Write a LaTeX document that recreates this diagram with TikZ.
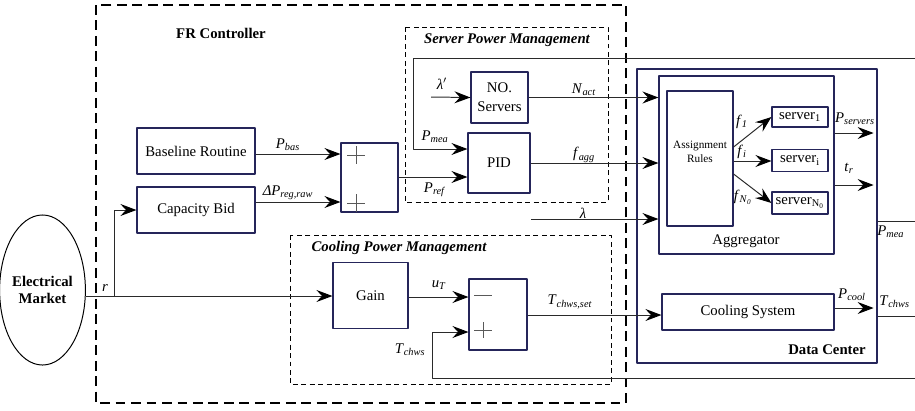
\documentclass[tikz,border=0pt]{standalone}
\usepackage{fontspec}
\setmainfont{Liberation Serif}
\usetikzlibrary{arrows.meta,shapes.geometric}

\definecolor{boxedge}{HTML}{25255A}
\definecolor{wire}{HTML}{2A2A2A}

\newcommand{\basefont}{\fontsize{10.5}{12.6}\selectfont}
\newcommand{\sig}[2]{\textit{#1}\textsubscript{\textit{#2}}}

\begin{document}
\begin{tikzpicture}[
  x=0.025cm, y=-0.025cm,
  font=\basefont,
  line join=round,
  blk/.style={draw=boxedge, line width=0.8pt, inner sep=1pt, align=center},
  wire/.style={draw=wire, line width=0.7pt,
    -{Stealth[length=4mm, width=3mm, inset=1.4mm, black]}},
  plain/.style={draw=wire, line width=0.7pt},
  frame/.style={line width=1.4pt, dash pattern=on 7pt off 4pt},
  group/.style={line width=0.7pt, dash pattern=on 3.5pt off 2.5pt},
  sgn/.style={draw=black!65, line width=0.6pt},
  lbl/.style={inner sep=0pt},
]
\useasboundingbox (0,0) rectangle (915,410);
\clip (0,0) rectangle (915,410);

% ── the dashed frames ─────────────────────────────────────────────────────
\draw[frame] (96,5) rectangle (626,403);
\draw[group] (405,27) rectangle (608,202);
\draw[group] (290,235) rectangle (611,384);

\node[font=\basefont\bfseries] (frtitle) at (221,33) {FR Controller};
\node[font=\basefont\bfseries\itshape] (sptitle) at (507,40) {Server Power Management};
\node[font=\basefont\bfseries\itshape] (cptitle) at (399,248) {Cooling Power Management};

% ── blocks ────────────────────────────────────────────────────────────────
\node[draw=black, line width=0.7pt, ellipse, minimum width=1.675cm,
  minimum height=3.75cm, inner sep=0pt, align=center,
  font=\basefont\bfseries] (mkt) at (42.5,290) {Electrical\\Market};

\node[blk, minimum width=2.95cm, minimum height=1.15cm] (base) at (196,151) {Baseline Routine};
\node[blk, minimum width=2.95cm, minimum height=1.15cm] (bid)  at (196,210) {Capacity Bid};
\node[blk, minimum width=1.425cm, minimum height=1.725cm] (sum1) at (369.5,177.5) {};

\node[blk, minimum width=1.425cm, minimum height=1.275cm] (nos) at (499.5,97.5) {NO.\\[1pt]Servers};
\node[blk, minimum width=1.55cm, minimum height=1.5cm] (pid) at (499,163) {PID};

\node[blk, minimum width=1.875cm, minimum height=1.65cm] (gain) at (370.5,295.5) {Gain};
\node[blk, minimum width=1.45cm, minimum height=1.775cm] (sum2) at (498,314.5) {};

% the data center and what sits in it
\node[blk, minimum width=6cm, minimum height=7.35cm] (dc) at (757,216) {};
\node[blk, minimum width=4.375cm, minimum height=4.45cm] (agg) at (746.5,165) {};
\node[blk, minimum width=1.65cm, minimum height=3.375cm] (ar) at (700,158.5) {};
\node[align=center, font=\fontsize{8}{9.6}\selectfont] (lar) at (700,152) {Assignment\\Rules};
\node[blk, minimum width=1.4cm, minimum height=0.5cm]  (srv1) at (800,117)   {server\textsubscript{1}};
\node[blk, minimum width=1.4cm, minimum height=0.53cm] (srvI) at (800,160.5) {server\textsubscript{i}};
\node[blk, minimum width=1.4cm, minimum height=0.55cm] (srvN) at (800,203)   {server\textsubscript{N\textsubscript{0}}};
\node[blk, minimum width=4.3cm, minimum height=0.9cm] (cool) at (748,312) {Cooling System};

\node (lagg) at (746,241) {Aggregator};
\node[font=\basefont\bfseries] (ldc) at (827,350) {Data Center};

% the plus and minus signs of the two summing blocks
\draw[sgn] (347,155) -- (365,155) (356,146) -- (356,164);
\draw[sgn] (347,203) -- (365,203) (356,194) -- (356,212);
\draw[sgn] (474,295) -- (492,295);
\draw[sgn] (474,330) -- (492,330) (483,322) -- (483,338);

% ── connectors ────────────────────────────────────────────────────────────
\coordinate (rsplit)  at (114,296);
\coordinate (lamin)   at (431,97);
\coordinate (lamin2)  at (531,219);
\coordinate (meatop)  at (930,58);
\coordinate (meacorn) at (413,58);
\coordinate (fbR)     at (930,378);
\coordinate (fbL)     at (432,378);
\coordinate (outmea)  at (930,221);
\coordinate (outchws) at (930,316);

\draw[wire] (mkt.east |- 0,296) -- (gain.west |- 0,296);
\draw[wire] (rsplit) |- (bid.west);
\draw[wire] (base.east |- 0,154) -- (sum1.west |- 0,154);
\draw[wire] (bid.east |- 0,202) -- (sum1.west |- 0,202);
\draw[wire] (sum1.east |- 0,177) -- (pid.west |- 0,177);
\draw[wire] (meatop) -- (meacorn) |- (pid.west |- 0,149);
\draw[wire] (lamin) -- (nos.west);
\draw[wire] (nos.east) -- (nos.east -| agg.west);
\draw[wire] (pid.east) -- (pid.east -| agg.west);
\draw[wire] (lamin2) -- (lamin2 -| agg.west);

\draw[wire] (ar.east |- 0,147) -- (srv1.west);
\draw[wire] (ar.east |- 0,161) -- (srvI.west |- 0,161);
\draw[wire] (ar.east |- 0,174) -- (srvN.west);
\draw[wire, shorten >=1mm] (agg.east |- 0,133) -- (dc.east |- 0,133);
\draw[wire, shorten >=1mm] (agg.east |- 0,185) -- (dc.east |- 0,185);
\draw[plain] (dc.east |- outmea) -- (outmea);
\draw[plain] (dc.east |- outchws) -- (outchws);

\draw[wire] (gain.east |- 0,297) -- (sum2.west |- 0,297);
\draw[wire] (fbR) -- (fbL) |- (sum2.west |- 0,332);
\draw[wire] (sum2.east |- 0,315) -- (cool.west |- 0,315);
\draw[wire, shorten >=1mm] (cool.east |- 0,308) -- (dc.east |- 0,308);

% ── labels ────────────────────────────────────────────────────────────────
\node[lbl] (lr)     at (105,288) {\textit{r}};
\node[lbl] (lbas)   at (288,145) {\sig{P}{bas}};
\node[lbl] (lreg)   at (288,193) {\textit{ΔP}\textsubscript{\textit{reg,raw}}};
\node[lbl] (lmea)   at (435,137) {\sig{P}{mea}};
\node[lbl] (lref)   at (435,190) {\sig{P}{ref}};
\node[lbl] (llamp)  at (442,84)  {\textit{λ}$'$};
\node[lbl] (lnact)  at (584,90)  {\sig{N}{act}};
\node[lbl] (lfagg)  at (584,155) {\sig{f}{agg}};
\node[lbl] (llam)   at (583,213) {\textit{λ}};
\node[lbl] (lf1)    at (742,122) {\sig{f}{1}};
\node[lbl] (lfi)    at (742,152) {\sig{f}{i}};
\node[lbl] (lfn)    at (743,197) {\textit{f}\textsubscript{\textit{N}\textsubscript{\textit{0}}}};
\node[lbl] (lpsrv)  at (855,119) {\sig{P}{servers}};
\node[lbl] (ltr)    at (849,168) {\sig{t}{r}};
\node[lbl] (lpcool) at (852,295) {\sig{P}{cool}};
\node[lbl, anchor=west] (lmeaR)  at (877,232) {\sig{P}{mea}};
\node[lbl, anchor=west] (lchwsR) at (879,302) {\sig{T}{chws}};
\node[lbl] (lut)    at (439,285) {\sig{u}{T}};
\node[lbl] (lchws)  at (410,350) {\sig{T}{chws}};
\node[lbl] (lset)   at (570,302) {\sig{T}{chws,set}};

\end{tikzpicture}
\end{document}
